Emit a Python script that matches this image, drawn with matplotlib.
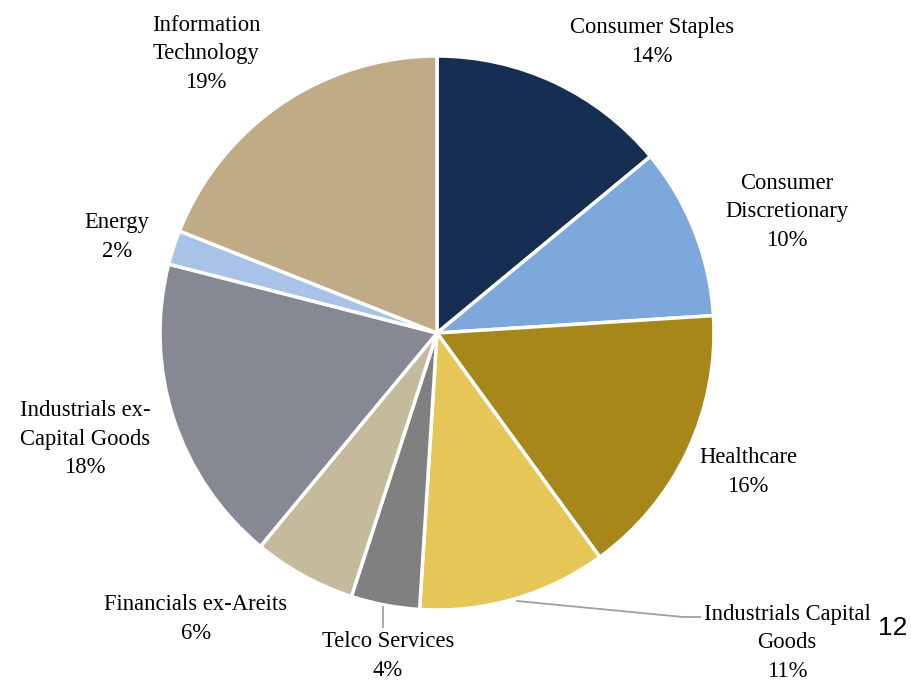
import matplotlib.pyplot as plt

# Sector weights, clockwise from 12 o'clock
sectors = ['Consumer Staples', 'Consumer\nDiscretionary', 'Healthcare',
           'Industrials Capital\nGoods', 'Telco Services', 'Financials ex-Areits',
           'Industrials ex-\nCapital Goods', 'Energy', 'Information\nTechnology']
weights = [14, 10, 16, 11, 4, 6, 18, 2, 19]
colors = ['#152E51', '#7CA8DC', '#A8871A', '#E5C656', '#808080', '#C5BA9B',
          '#868994', '#A8C2E8', '#BFAC87']

# label centres in pixels (x, y from top)
label_px = [(652, 42), (787, 212), (748, 472), (787, 643), (388, 656),
            (196, 619), (85, 439), (117, 237), (206, 54)]

W, H = 912, 681
cx, cy, R = 437, 333, 277

plt.rcParams['font.family'] = ['Liberation Serif', 'DejaVu Serif']

fig = plt.figure(figsize=(W / 100, H / 100), dpi=100)
ax = fig.add_axes([0, 0, 1, 1])

ax.pie(weights, colors=colors, startangle=90, counterclock=False, radius=1,
       wedgeprops=dict(edgecolor='white', linewidth=2.5))

ax.set_xlim(-cx / R, (W - cx) / R)
ax.set_ylim(-(H - cy) / R, cy / R)
ax.set_aspect('equal')
ax.axis('off')


def to_data(px, py):
    return (px - cx) / R, (cy - py) / R


for name, w, (px, py) in zip(sectors, weights, label_px):
    x, y = to_data(px, py)
    ax.text(x, y, f'{name}\n{w}%', ha='center', va='center', fontsize=16.3,
            linespacing=1.45, color='black')

# leader lines
line_col = '#A0A0A0'
p0, p1 = to_data(383, 607), to_data(383, 627)
ax.plot([p0[0], p1[0]], [p0[1], p1[1]], color=line_col, lw=1.3)
pts = [to_data(517, 601), to_data(683, 617), to_data(700, 617)]
ax.plot([p[0] for p in pts], [p[1] for p in pts], color=line_col, lw=1.3)

# page number
fig.text(893 / W, 1 - 628 / H, '12', fontsize=19, family='Liberation Sans',
         ha='center', va='center')

fig.savefig('out.png', dpi=100)
